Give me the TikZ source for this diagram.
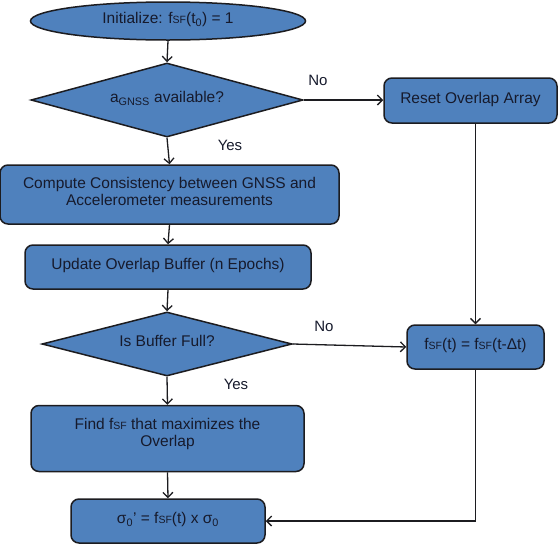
\documentclass[tikz,border=0pt]{standalone}
\usepackage{fontspec}
\setmainfont{Liberation Sans}
\usetikzlibrary{shapes.geometric,arrows.meta}
\definecolor{boxblue}{RGB}{79,129,189}
\definecolor{edgedark}{RGB}{28,28,32}
\definecolor{txt}{RGB}{22,26,44}
\newcommand{\fsf}{f{\fontsize{10.5}{10.5}\selectfont SF}}
\tikzset{
  base/.style={draw=edgedark, line width=1.5pt, fill=boxblue, text=txt, inner sep=0pt,
    font=\fontsize{15.5}{17.5}\selectfont, align=center},
  lift/.style={text height=11pt, text depth=6pt},
  stepbox/.style={base, rectangle, rounded corners=8pt},
  oval/.style={base, ellipse},
  decision/.style={base, diamond, shape aspect=3.6},
  conn/.style={draw=edgedark, line width=1.3pt, -{Straight Barb[length=5pt,width=10pt,line width=1.3pt]}},
  lbl/.style={text=txt, font=\fontsize{15}{17}\selectfont, inner sep=0pt}
}
\begin{document}
\begin{tikzpicture}[x=1pt,y=-1pt]
\useasboundingbox (0,0) rectangle (558,555);
\node[oval, lift, minimum width=275pt, minimum height=38pt] (init) at (168,21) {Initialize: \fsf(t\textsubscript{0}) = 1};
\node[decision, lift, minimum width=272pt, minimum height=74pt] (d1) at (167,100) {a\textsubscript{GNSS} available?};
\node[stepbox, lift, minimum width=173pt, minimum height=45pt] (reset) at (470.5,100.5) {Reset Overlap Array};
\node[stepbox, minimum width=339pt, minimum height=59pt] (compute) at (169.5,194.5) {Compute Consistency between GNSS and\\Accelerometer measurements\\[-11pt]\mbox{}};
\node[stepbox, lift, minimum width=286pt, minimum height=44pt] (update) at (168,267) {Update Overlap Buffer (n Epochs)};
\node[decision, lift, minimum width=250pt, minimum height=64pt] (d2) at (167,344) {Is Buffer Full?};
\node[stepbox, lift, minimum width=137pt, minimum height=44pt] (fsfbox) at (475.5,347) {\fsf(t) = \fsf(t-Δt)};
\node[stepbox, minimum width=273pt, minimum height=66pt] (find) at (167.5,438.5) {Find \fsf\ that maximizes the\\Overlap\\[-5pt]\mbox{}};
\node[stepbox, lift, minimum width=194pt, minimum height=44pt] (sigma) at (168,521) {σ\textsubscript{0}’ = \fsf(t) x σ\textsubscript{0}};
\node[lbl] (no1) at (318,80) {No};
\node[lbl] (yes1) at (230,145) {Yes};
\node[lbl] (no2) at (324,326) {No};
\node[lbl] (yes2) at (236,384) {Yes};
\draw[conn] (init.south) -- (d1.north);
\draw[conn] (d1.east) -- (reset.west |- d1.east);
\draw[conn] (d1.south) -- (compute.north);
\draw[conn] (compute.south) -- (update.north);
\draw[conn] (update.south) -- (d2.north);
\draw[conn] (d2.east) -- (fsfbox.west);
\draw[conn] (d2.south) -- (find.north);
\draw[conn] (find.south) -- (sigma.north);
\draw[conn] (fsfbox.north |- reset.south) -- (fsfbox.north);
\draw[conn] (fsfbox.south) |- (sigma.east);
\end{tikzpicture}
\end{document}
